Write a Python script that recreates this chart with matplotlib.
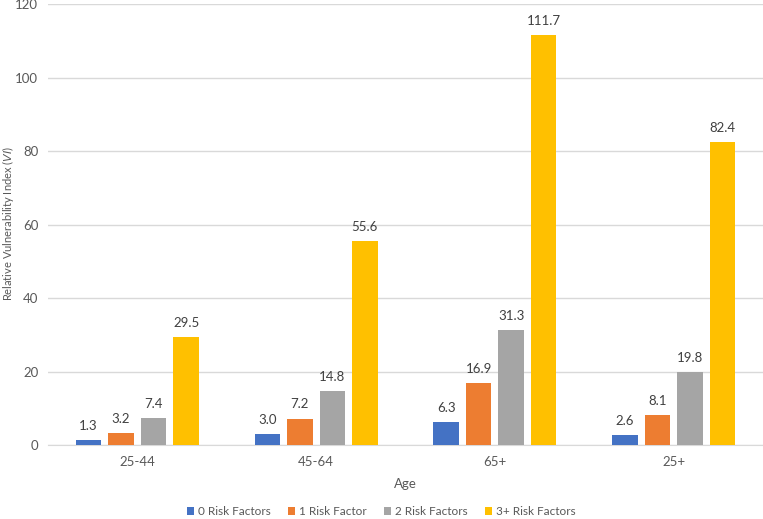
import matplotlib.pyplot as plt
import numpy as np

plt.rcParams['font.family'] = ['Lato', 'DejaVu Sans']

# data
ages = ['25-44', '45-64', '65+', '25+']
series = ['0 Risk Factors', '1 Risk Factor', '2 Risk Factors', '3+ Risk Factors']
rf0 = [1.3, 3.0, 6.3, 2.6]
rf1 = [3.2, 7.2, 16.9, 8.1]
rf2 = [7.4, 14.8, 31.3, 19.8]
rf3 = [29.5, 55.6, 111.7, 82.4]

colors = ['#4472C4', '#ED7D31', '#A5A5A5', '#FFC000']
text_color = '#595959'

fig = plt.figure(figsize=(7.63, 5.19), dpi=100)
ax = fig.add_axes([0.0629, 0.1426, 0.9371, 0.849])

x = np.arange(len(ages))
width = 0.143
step = 0.182
for i, (vals, name) in enumerate(zip([rf0, rf1, rf2, rf3], series)):
    pos = x + (i - 1.5) * step
    bars = ax.bar(pos, vals, width=width, color=colors[i], label=name, zorder=3)
    for b, v in zip(bars, vals):
        ax.text(b.get_x() + b.get_width() / 2, v + 2.2, f'{v:.1f}',
                ha='center', va='bottom', fontsize=9.5, color='#404040')

ax.set_xlim(-0.5, 3.5)
ax.set_ylim(0, 120)
ax.set_yticks(range(0, 121, 20))
ax.set_xticks(x)
ax.set_xticklabels(ages)
ax.grid(axis='y', color='#d9d9d9', linewidth=1, zorder=0)
for s in ['top', 'right', 'left']:
    ax.spines[s].set_visible(False)
ax.spines['bottom'].set_color('#d9d9d9')
ax.tick_params(axis='both', length=0, labelsize=9.5, colors=text_color)
ax.tick_params(axis='x', pad=8)
ax.tick_params(axis='y', pad=7)

ax.set_xlabel('Age', fontsize=9.5, color=text_color, labelpad=7)
fig.text(0.0, 0.57, 'Relative Vulnerability Index ($\\it{VI}$)', rotation=90,
         va='center', ha='left', fontsize=8, color=text_color)

leg = fig.legend(loc='lower center', bbox_to_anchor=(0.5, -0.017), ncol=4, frameon=False,
                 fontsize=8.5, handlelength=0.6, handleheight=0.6, handletextpad=0.35,
                 columnspacing=1.45, labelcolor=text_color)

fig.savefig('out.png', dpi=100)
